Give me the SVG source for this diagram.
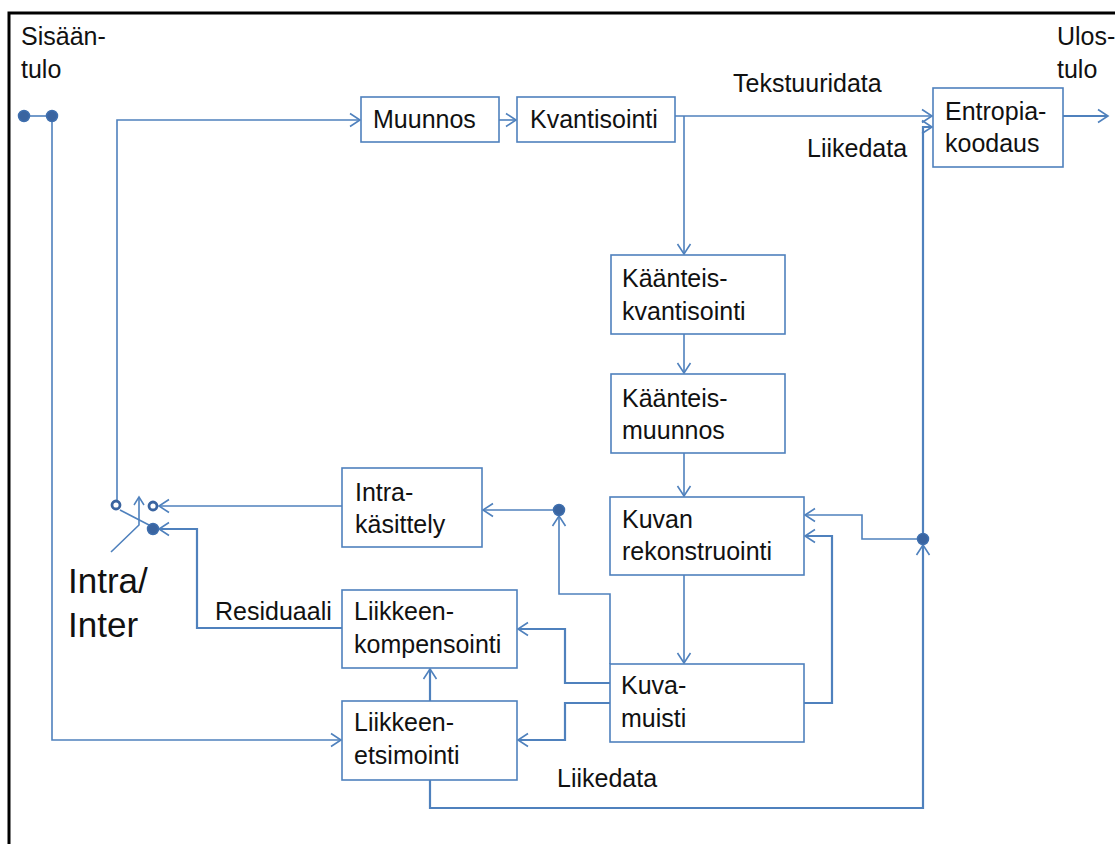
<svg xmlns="http://www.w3.org/2000/svg" width="1115" height="844" viewBox="0 0 1115 844">
<defs>
<marker id="arr" markerUnits="userSpaceOnUse" markerWidth="24" markerHeight="24" viewBox="-12 -12 24 24" refX="0" refY="0" orient="auto">
<path d="M-10,-6.5 L0,0 L-10,6.5" fill="none" stroke="#4F81BD" stroke-width="1.6"/>
</marker>
<marker id="arrs" markerUnits="userSpaceOnUse" markerWidth="20" markerHeight="20" viewBox="-10 -10 20 20" refX="0" refY="0" orient="auto">
<path d="M-8,-5 L0,0 L-8,5" fill="none" stroke="#4F81BD" stroke-width="1.5"/>
</marker>
</defs>
<style>
.box{fill:#fff;stroke:#4F81BD;stroke-width:1.6}
.t{font-family:"Liberation Sans",Arial,sans-serif;font-size:25px;fill:#111}
.big{font-size:35px}
.c{fill:none;stroke:#4F81BD;stroke-width:1.6}
.c2{fill:none;stroke:#4F81BD;stroke-width:2.2}
.a{marker-end:url(#arr)}
.dot{fill:#3A64A0;stroke:#3F6FAE;stroke-width:1.5}
.odot{fill:#fff;stroke:#3A64A0;stroke-width:2.8}
</style>
<rect width="1115" height="844" fill="#fff"/>
<path d="M9,846 V13 H1117" fill="none" stroke="#000" stroke-width="3"/>

<g id="labels">
<text class="t" x="21" y="45">Sisään-</text>
<text class="t" x="21" y="78">tulo</text>
<text class="t" x="1057" y="45">Ulos-</text>
<text class="t" x="1057" y="78">tulo</text>
<text class="t" x="733" y="92">Tekstuuridata</text>
<text class="t" x="807" y="157">Liikedata</text>
<text class="t" x="215" y="620">Residuaali</text>
<text class="t" x="557" y="787">Liikedata</text>
<text class="t big" x="68" y="593">Intra/</text>
<text class="t big" x="68" y="637">Inter</text>
</g>

<g id="connectors">
<path class="c" d="M24,116 H52"/>
<path class="c a" d="M52,116 V740 H341"/>
<path class="c a" d="M117,500 V120 H360"/>
<path class="c a" d="M499,120 H516"/>
<path class="c a" d="M675,116 H932"/>
<path class="c a" d="M684,116 V254"/>
<path class="c a" d="M684,334 V373"/>
<path class="c a" d="M684,453 V496"/>
<path class="c a" d="M684,575 V663"/>
<path class="c2 a" d="M430,780 V808 H923 V545"/>
<path class="c2 a" d="M923,539 V127 H932"/>
<path class="c a" d="M923,539 H862 V515 H805"/>
<path class="c2 a" d="M804,703 H832 V536 H805"/>
<path class="c a" d="M610,664 V594 H559 V516"/>
<path class="c a" d="M559,510 H483"/>
<path class="c a" d="M342,506 H159"/>
<path class="c2 a" d="M342,628 H197 V529 H159"/>
<path class="c2 a" d="M610,683 H565 V629 H518"/>
<path class="c2 a" d="M610,703 H565 V740 H518"/>
<path class="c2 a" d="M430,701 V669"/>
<path class="c2 a" d="M1063,116 H1108"/>
<path class="c" d="M120,510 L149,525"/>
<path class="c" d="M111,552 L139,525 V497" marker-end="url(#arrs)"/>
</g>

<g id="junctions">
<circle class="dot" cx="24" cy="116" r="5.5"/>
<circle class="dot" cx="52" cy="116" r="5.5"/>
<circle class="odot" cx="116" cy="505" r="4"/>
<circle class="odot" cx="153" cy="506" r="4"/>
<circle class="dot" cx="153" cy="529" r="5.5"/>
<circle class="dot" cx="559" cy="510" r="5.5"/>
<circle class="dot" cx="923" cy="539" r="5.5"/>
</g>

<g id="muunnos"><rect class="box" x="361" y="97" width="138" height="45"/><text class="t" x="373" y="128">Muunnos</text></g>
<g id="kvantisointi"><rect class="box" x="517" y="97" width="158" height="45"/><text class="t" x="530" y="128">Kvantisointi</text></g>
<g id="entropiakoodaus"><rect class="box" x="933" y="88" width="130" height="79"/><text class="t" x="945" y="120">Entropia-</text><text class="t" x="945" y="152">koodaus</text></g>
<g id="kaanteiskvantisointi"><rect class="box" x="611" y="255" width="174" height="79"/><text class="t" x="622" y="287">Käänteis-</text><text class="t" x="622" y="320">kvantisointi</text></g>
<g id="kaanteismuunnos"><rect class="box" x="611" y="374" width="174" height="79"/><text class="t" x="622" y="407">Käänteis-</text><text class="t" x="622" y="439">muunnos</text></g>
<g id="kuvanrekonstruointi"><rect class="box" x="610" y="497" width="194" height="78"/><text class="t" x="622" y="528">Kuvan</text><text class="t" x="622" y="560">rekonstruointi</text></g>
<g id="intrakasittely"><rect class="box" x="342" y="468" width="140" height="79"/><text class="t" x="355" y="501">Intra-</text><text class="t" x="355" y="533">käsittely</text></g>
<g id="liikkeenkompensointi"><rect class="box" x="342" y="590" width="175" height="78"/><text class="t" x="354" y="620">Liikkeen-</text><text class="t" x="354" y="653">kompensointi</text></g>
<g id="liikkeenetsimointi"><rect class="box" x="342" y="701" width="175" height="79"/><text class="t" x="354" y="731">Liikkeen-</text><text class="t" x="354" y="764">etsimointi</text></g>
<g id="kuvamuisti"><rect class="box" x="610" y="664" width="194" height="78"/><text class="t" x="621" y="694">Kuva-</text><text class="t" x="621" y="727">muisti</text></g>
</svg>
